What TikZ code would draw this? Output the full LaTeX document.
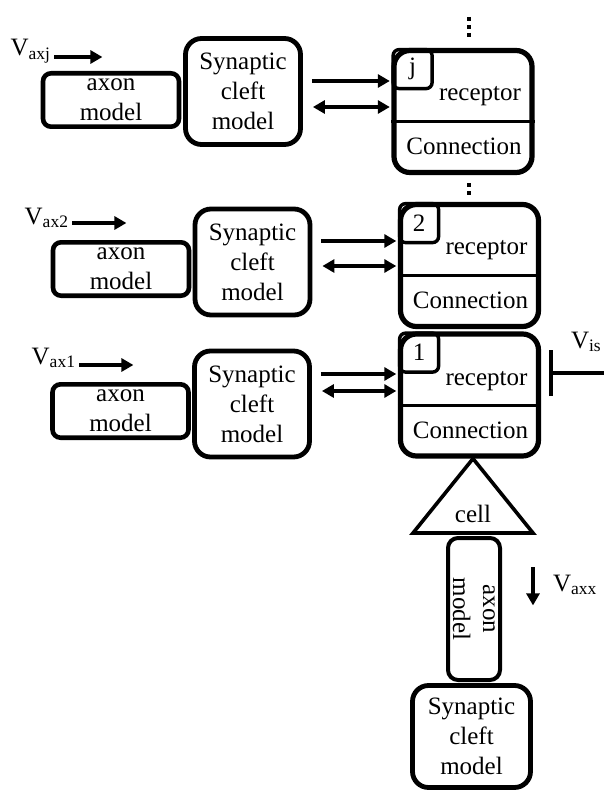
\documentclass[tikz,border=0pt]{standalone}
\usepackage{fontspec}
\setmainfont{Liberation Serif}
\usetikzlibrary{arrows.meta}
\usetikzlibrary{calc}

\begin{document}
\begin{tikzpicture}[x=0.5pt,y=-0.5pt,font=\fontsize{12.5}{15}\selectfont]
    \useasboundingbox (0,0) rectangle (604,792);
    \begin{scope}[
        axonbox/.style={draw,line width=2.3pt,rounded corners=4pt,minimum width=68pt,minimum height=26.7pt,inner sep=0pt,align=center},
        cleftbox/.style={draw,line width=2.4pt,rounded corners=8pt,minimum width=57.5pt,minimum height=53pt,inner sep=0pt,align=center},
        recbox/.style={draw,line width=2.6pt,rounded corners=8pt,minimum width=69pt,minimum height=61pt,inner sep=0pt},
        numbox/.style={draw,line width=1.7pt,rounded corners=3pt,minimum size=19.5pt,inner sep=0pt},
        divide/.style={line width=1.5pt},
        sig/.style={line width=2pt,shorten >=0.8pt,-{Triangle[length=6pt,width=6.5pt]}},
        sigboth/.style={line width=2pt,shorten >=0.8pt,{Triangle[length=6pt,width=6.5pt]}-{Triangle[length=6pt,width=6.5pt]}},
        vdots/.style={line width=2pt,dash pattern=on 2pt off 2pt},
        volt/.style={inner sep=0pt,outer sep=1.5pt}]

    % Dots above and between the receptor blocks:
    \draw[vdots] (469,17) -- (469,38);
    \draw[vdots] (469,183) -- (469,196);

    % Synapse j (top row):
    \node[axonbox] (axonj) at (111,100) {axon\\model};
    \node[cleftbox] (cleftj) at (243,91.5) {Synaptic\\cleft\\model};
    \node[recbox] (recj) at (463,111.5) {};
    \node[numbox,anchor=north west] (numj) at (recj.north west) {j};
    \node[anchor=base] (recepj) at ($(recj.north)+(17,53)$) {receptor};
    \node[anchor=base] (connj) at ($(recj.north)+(1,107)$) {Connection};
    \draw[divide] ($(recj.north west)+(0,74)$) -- ($(recj.north east)+(0,74)$);
    \draw[sig] ([xshift=4.5pt,yshift=5.25pt]cleftj.east) coordinate (aj) -- (aj -| recj.west);
    \draw[sigboth] ([xshift=5pt,yshift=-7.75pt]cleftj.east) coordinate (bj) -- (bj -| recj.west);
    \node[volt,anchor=base east] (vaxj) at (54,56) {V\textsubscript{axj}};
    \coordinate (vaxje) at (104,57);
    \draw[sig] (vaxj.east |- vaxje) -- (vaxje);

    % Synapse 2:
    \node[axonbox] (axon2) at (121,269) {axon\\model};
    \node[cleftbox] (cleft2) at (252.5,262) {Synaptic\\cleft\\model};
    \node[recbox] (rec2) at (469.5,265.5) {};
    \node[numbox,anchor=north west] (num2) at (rec2.north west) {2};
    \node[anchor=base] (recep2) at ($(rec2.north)+(17,53)$) {receptor};
    \node[anchor=base] (conn2) at ($(rec2.north)+(1,107)$) {Connection};
    \draw[divide] ($(rec2.north west)+(0,74)$) -- ($(rec2.north east)+(0,74)$);
    \draw[sig] ([xshift=4.5pt,yshift=10.5pt]cleft2.east) coordinate (a2) -- (a2 -| rec2.west);
    \draw[sigboth] ([xshift=5pt,yshift=-2pt]cleft2.east) coordinate (b2) -- (b2 -| rec2.west);
    \node[volt,anchor=base east] (vax2) at (72,224) {V\textsubscript{ax2}};
    \coordinate (vax2e) at (128,223);
    \draw[sig] (vax2.east |- vax2e) -- (vax2e);

    % Synapse 1:
    \node[axonbox] (axon1) at (120.5,411) {axon\\model};
    \node[cleftbox] (cleft1) at (252,404) {Synaptic\\cleft\\model};
    \node[recbox] (rec1) at (469.5,395) {};
    \node[numbox,anchor=north west] (num1) at (rec1.north west) {1};
    \node[anchor=base] (recep1) at ($(rec1.north)+(17,54)$) {receptor};
    \node[anchor=base] (conn1) at ($(rec1.north)+(1,107)$) {Connection};
    \draw[divide] ($(rec1.north west)+(0,74)$) -- ($(rec1.north east)+(0,74)$);
    \draw[sig] ([xshift=4.5pt,yshift=15pt]cleft1.east) coordinate (a1) -- (a1 -| rec1.west);
    \draw[sigboth] ([xshift=5pt,yshift=6.5pt]cleft1.east) coordinate (b1) -- (b1 -| rec1.west);
    \node[volt,anchor=base east] (vax1) at (79,364) {V\textsubscript{ax1}};
    \coordinate (vax1e) at (135,365);
    \draw[sig] (vax1.east |- vax1e) -- (vax1e);

    % Inhibiting input on the right:
    \node[volt,anchor=base west] (vis) at (568,348) {V\textsubscript{is}};
    \coordinate (vise) at (604,373);
    \draw[line width=1.8pt,-{Bar[width=23pt]}] (vise) -- (549,373);

    % Cell and its own axon below:
    \node[anchor=base] (cell) at (473,522) {cell};
    \draw[line width=1.8pt,line join=miter] ([xshift=1.75pt]rec1.south) -- ($(cell.base)+(-60,11)$) -- ($(cell.base)+(60,11)$) -- cycle;
    \node[axonbox,rotate=-90,minimum width=71pt,minimum height=26pt,rounded corners=5pt,line width=2pt] (axonx) at (474,609) {axon\\model};
    \node[cleftbox,minimum width=59pt,minimum height=51pt] (cleftx) at (471.5,736.5) {Synaptic\\cleft\\model};
    \coordinate (vaxxs) at (533,567);
    \coordinate (vaxxe) at (533,607);
    \draw[sig] (vaxxs) -- (vaxxe);
    \node[volt,anchor=base west] (vaxx) at (550,591) {V\textsubscript{axx}};

    \end{scope}
\end{tikzpicture}
\end{document}
